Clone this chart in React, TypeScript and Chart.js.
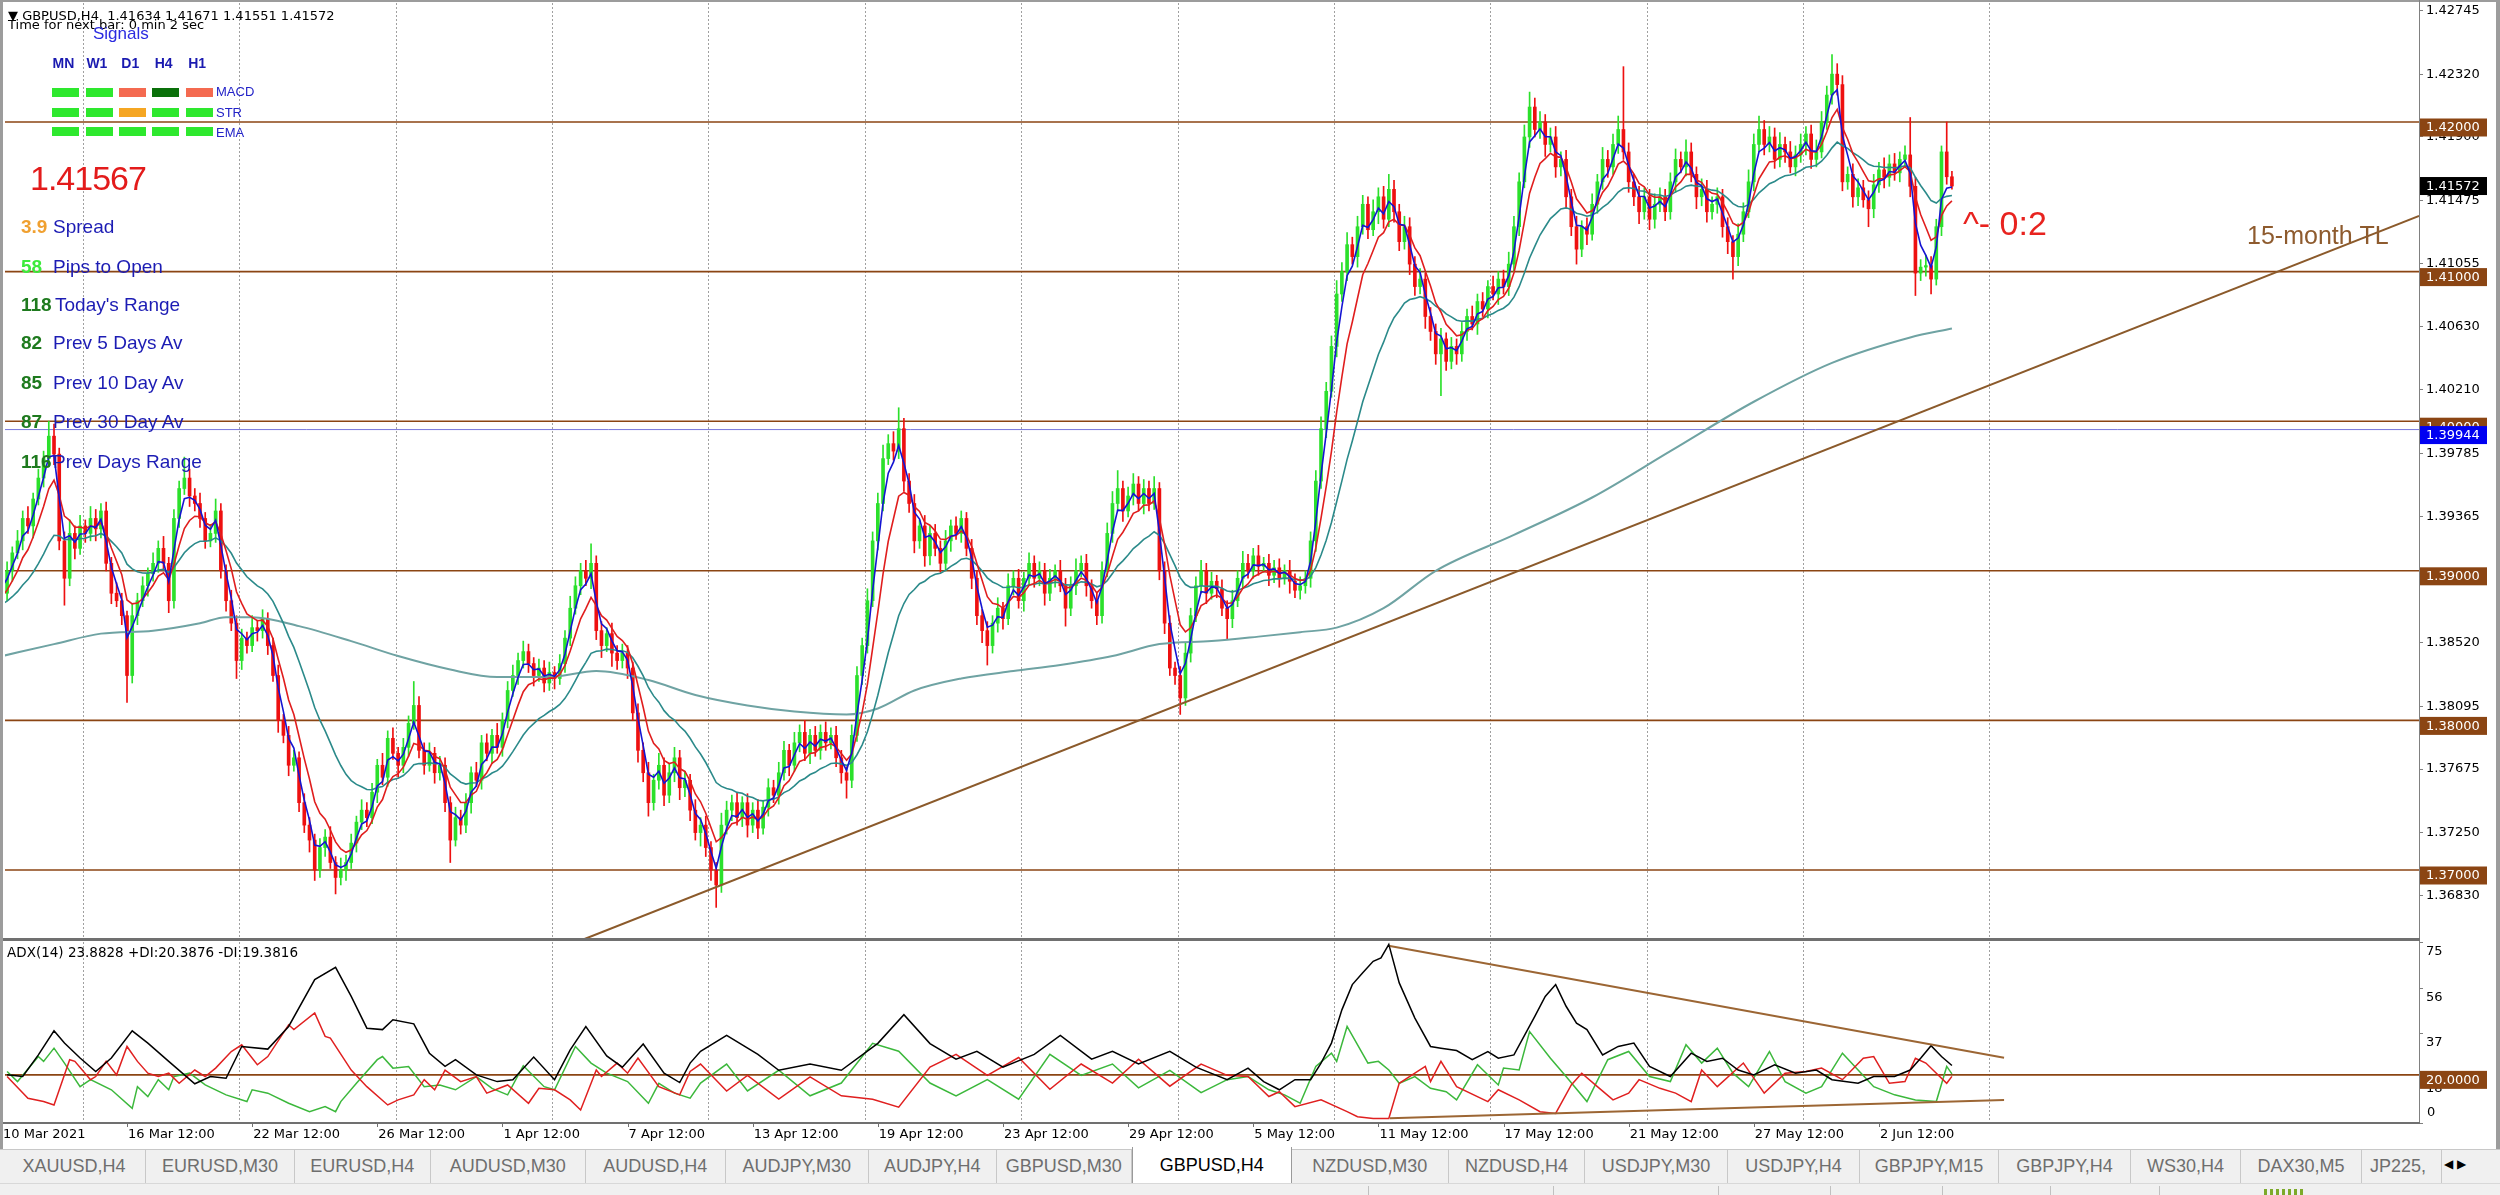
import React, { useEffect, useRef } from 'react';
import { Chart, registerables } from 'chart.js';

Chart.register(...registerables);

// ---------------- data (GBPUSD H4, 10 Mar 2021 12:00 .. 4 Jun 2021) ----------------
const firstOpen = 1.3875;
const closes = [
  1.3885,1.3900,1.3912,1.3920,1.3935,1.3930,1.3948,1.3962,1.3975,1.3990,
  1.3978,1.3920,1.3895,1.3925,1.3915,1.3930,1.3925,1.3935,1.3928,1.3940,
  1.3905,1.3885,1.3880,1.3870,1.3830,1.3870,1.3880,1.3890,1.3898,1.3905,
  1.3915,1.3905,1.3880,1.3935,1.3955,1.3962,1.3950,1.3945,1.3935,1.3920,
  1.3925,1.3940,1.3900,1.3880,1.3865,1.3840,1.3855,1.3850,1.3862,1.3860,
  1.3868,1.3850,1.3830,1.3800,1.3790,1.3770,1.3775,1.3745,1.3730,1.3720,
  1.3700,1.3715,1.3722,1.3705,1.3695,1.3700,1.3705,1.3718,1.3732,1.3740,
  1.3735,1.3752,1.3770,1.3762,1.3788,1.3778,1.3770,1.3782,1.3798,1.3810,
  1.3780,1.3770,1.3778,1.3765,1.3770,1.3745,1.3720,1.3735,1.3730,1.3745,
  1.3765,1.3760,1.3785,1.3778,1.3790,1.3782,1.3800,1.3820,1.3830,1.3840,
  1.3846,1.3838,1.3830,1.3835,1.3825,1.3832,1.3828,1.3838,1.3855,1.3875,
  1.3890,1.3900,1.3895,1.3905,1.3860,1.3850,1.3858,1.3845,1.3840,1.3845,
  1.3835,1.3805,1.3780,1.3765,1.3745,1.3760,1.3770,1.3750,1.3765,1.3775,
  1.3755,1.3760,1.3740,1.3725,1.3730,1.3715,1.3700,1.3690,1.3730,1.3740,
  1.3745,1.3735,1.3745,1.3730,1.3740,1.3728,1.3742,1.3755,1.3750,1.3765,
  1.3780,1.3770,1.3785,1.3792,1.3778,1.3790,1.3780,1.3792,1.3785,1.3790,
  1.3775,1.3765,1.3760,1.3790,1.3830,1.3850,1.3880,1.3920,1.3945,1.3975,
  1.3985,1.3980,1.3995,1.3960,1.3945,1.3920,1.3930,1.3910,1.3925,1.3915,
  1.3905,1.3920,1.3930,1.3925,1.3935,1.3915,1.3895,1.3870,1.3860,1.3850,
  1.3865,1.3875,1.3868,1.3890,1.3895,1.3880,1.3895,1.3905,1.3895,1.3900,
  1.3885,1.3895,1.3900,1.3890,1.3875,1.3890,1.3900,1.3905,1.3890,1.3880,
  1.3870,1.3900,1.3925,1.3945,1.3955,1.3940,1.3950,1.3958,1.3945,1.3955,
  1.3945,1.3955,1.3900,1.3865,1.3835,1.3830,1.3815,1.3845,1.3870,1.3890,
  1.3900,1.3885,1.3893,1.3888,1.3875,1.3868,1.3880,1.3895,1.3905,1.3900,
  1.3910,1.3903,1.3905,1.3897,1.3902,1.3895,1.3900,1.3893,1.3887,1.3890,
  1.3895,1.3920,1.3960,1.3995,1.4020,1.4050,1.4085,1.4100,1.4118,1.4110,
  1.4130,1.4145,1.4128,1.4140,1.4150,1.4135,1.4155,1.4140,1.4120,1.4130,
  1.4105,1.4090,1.4095,1.4070,1.4060,1.4045,1.4055,1.4040,1.4050,1.4045,
  1.4060,1.4070,1.4065,1.4080,1.4075,1.4090,1.4085,1.4095,1.4090,1.4105,
  1.4130,1.4160,1.4190,1.4210,1.4195,1.4200,1.4185,1.4190,1.4170,1.4175,
  1.4150,1.4130,1.4115,1.4130,1.4125,1.4145,1.4160,1.4175,1.4170,1.4185,
  1.4195,1.4180,1.4160,1.4150,1.4140,1.4150,1.4135,1.4145,1.4150,1.4140,
  1.4160,1.4175,1.4170,1.4180,1.4165,1.4150,1.4155,1.4140,1.4145,1.4150,
  1.4130,1.4120,1.4110,1.4125,1.4140,1.4160,1.4185,1.4195,1.4185,1.4190,
  1.4175,1.4185,1.4180,1.4170,1.4178,1.4185,1.4192,1.4175,1.4180,1.4200,
  1.4218,1.4232,1.4225,1.4160,1.4165,1.4150,1.4156,1.4148,1.4142,1.4158,
  1.4168,1.4163,1.4172,1.4166,1.4175,1.4178,1.4157,1.4099,1.4103,1.4104,
  1.4095,1.4130,1.4180,1.41634,1.41572,
];
// wick lengths in pips above / below the body
const wickUp = [
  5,6,4,7,5,8,4,6,5,10, 8,4,6,9,5,7,4,8,6,5, 6,4,7,5,3,8,5,6,4,7, 5,8,4,6,5,14,6,5,7,4,
  6,8,5,4,7,5,6,4,8,5, 6,4,5,7,4,6,5,4,6,5, 4,6,5,7,4,8,5,6,4,7, 5,6,4,8,5,7,4,6,5,16,
  6,5,7,4,6,5,4,7,5,6, 4,7,5,6,4,8,5,6,7,5, 7,5,4,6,5,7,4,6,5,8, 6,5,7,13,5,6,4,7,5,6,
  5,4,6,5,7,4,8,5,6,7, 5,6,4,7,5,6,4,5,8,6, 5,7,4,6,5,7,4,6,5,7, 6,4,7,5,8,4,6,5,7,5,
  6,5,4,7,6,5,8,6,7,9, 6,8,14,7,5,6,4,7,5,6, 5,7,4,6,5,4,6,5,4,6, 5,7,4,8,5,6,4,7,5,6,
  5,6,4,7,5,6,8,5,6,4, 5,6,7,8,12,5,6,7,5,6, 5,8,4,6,5,4,6,7,5,6, 7,5,6,4,6,5,7,5,8,6,
  5,7,4,6,5,6,4,7,5,6, 5,6,7,8,6,7,9,6,8,5, 7,6,5,8,6,7,10,6,5,7, 6,5,7,4,6,5,7,4,6,5,
  6,5,7,5,6,4,7,5,6,8, 7,6,8,10,6,7,5,6,7,5, 6,5,7,4,6,7,5,8,6,7, 9,42,6,5,7,6,5,7,6,5,
  6,7,5,8,6,5,7,6,5,6, 5,6,4,7,6,8,7,9,6,7, 6,8,5,7,6,7,5,6,8,7, 6,13,7,6,5,7,6,5,6,7,
  5,8,6,7,5,6,25,6,5,7, 6,5,4,20,3.7,
];
const wickDn = [
  6,5,7,4,6,5,8,4,6,5, 7,6,18,5,7,4,6,5,8,6, 5,7,4,6,18,5,6,4,7,5, 6,4,8,5,6,4,7,5,6,5,
  4,6,5,7,5,12,6,5,4,7, 5,6,4,8,5,7,4,6,5,8, 7,5,6,4,11,5,7,4,6,5, 6,4,7,5,6,4,8,5,6,4,
  5,6,4,7,5,6,15,4,6,5, 7,4,6,5,7,4,6,5,4,6, 5,6,7,4,6,5,7,4,6,5, 4,6,5,7,6,8,4,9,6,5,
  7,5,8,6,9,5,6,7,5,6, 8,6,7,5,9,6,7,15,5,6, 7,5,6,8,5,7,4,6,5,6, 5,7,4,6,5,7,4,6,5,4,
  6,7,12,5,4,6,5,4,6,5, 4,6,5,7,6,8,5,7,6,5, 6,5,7,4,6,5,7,6,8,13, 5,6,7,4,6,5,7,4,6,5,
  8,5,6,4,12,5,6,4,7,5, 6,5,4,6,5,7,4,6,5,7, 5,4,6,7,5,6,11,5,6,4, 5,7,4,6,5,14,6,4,7,5,
  5,6,4,7,5,6,4,8,5,6, 5,6,7,5,6,4,7,5,6,5, 7,5,6,4,8,6,5,7,6,5, 7,6,5,8,6,7,28,6,5,7,
  5,6,4,7,5,6,4,7,5,6, 5,6,4,7,5,6,8,5,7,6, 8,6,10,5,7,4,6,5,7,5, 6,5,7,6,8,5,7,6,5,6,
  5,7,4,6,5,8,6,7,5,6, 7,8,15,6,5,4,6,5,7,5, 6,5,7,4,6,5,7,6,5,4, 5,6,7,6,5,7,6,5,12,6,
  5,7,6,5,6,5,7,15,5,6, 10,4,6,5,2.1,
];

// slow moving average: [bar index, price]
const longMaPts = [
  [0,1.3843],[10,1.3851],[19,1.3858],[29,1.3860],[38,1.3865],[43,1.3869],[48,1.3869],[57,1.3863],
  [67,1.3853],[76,1.3843],[86,1.3834],[95,1.3829],[105,1.3829],[114,1.3833],[124,1.3827],[133,1.3817],
  [143,1.3810],[152,1.3806],[162,1.3804],[168,1.3808],[175,1.3820],[184,1.3828],[194,1.3833],[203,1.3837],
  [213,1.3843],[222,1.3851],[232,1.3853],[241,1.3856],[249,1.3859],[256,1.3862],[265,1.3875],[275,1.3900],
  [290,1.3924],[305,1.3949],[320,1.3980],[336,1.4013],[351,1.4039],[366,1.4056],[374,1.4062],
];

// ADX(14) panel: [bar index, value]
const adxPts = [
  [1,20],[4,19.3],[7,28.3],[10,38.3],[12,33.2],[15,27],[18,21.4],[21,27],[25,38.3],[28,33.2],[32,25.6],
  [37,16.3],[40,19.3],[43,18.6],[46,31.8],[51,30.7],[55,40.1],[60,59.6],[64,64.7],[67,52.6],[70,39.4],
  [73,38.8],[75,42.9],[79,41.2],[82,29],[85,23.5],[87,26.3],[91,20],[95,17.2],[98,18],[102,27.4],[106,18],
  [109,30.4],[112,40.1],[116,27.9],[119,23.2],[123,32.8],[127,20.7],[130,16.8],[132,24.9],[134,29.8],
  [139,36.4],[145,28.5],[149,21.9],[155,24.5],[161,21.9],[168,33.1],[173,45],[178,33],[183,26.5],
  [187,29.8],[192,23.2],[198,28.5],[203,36.4],[209,26.5],[213,29.8],[218,24.5],[224,29.8],[229,23.2],
  [235,18],[239,22.8],[242,17.2],[245,13.8],[248,18],[251,18],[253,24.9],[255,33.2],[257,47],[259,57.5],
  [261,62.4],[263,67.2],[264.5,68.6],[266,74.2],[268,58.2],[271,43.6],[274,31.8],[276,31.1],[279,30.1],
  [282,26.3],[285,29.7],[287,26.9],[290,28.3],[294,44.3],[296,52.6],[298,57.5],[300,48.5],[302,41.5],
  [304,38.8],[307,28.3],[310,31.8],[313,33.2],[316,23.5],[320,19.3],[324,29],[327,25.6],[330,26.9],
  [333,22],[336,20],[340,24.2],[344,20.7],[348,22],[351,18],[356,16.5],[359,19.3],[363,19.3],[366,22],
  [368,26.9],[370,32.1],[372,27.6],[374,23.88],
];
const plusDiPts = [
  [1,21.4],[3,17.2],[7,27.6],[8,25.6],[10,31.1],[12,24.9],[15,15.1],[17,18],[21,13.8],[25,6.1],[26,15.1],
  [28,11],[30,18],[32,13.8],[33,19.3],[36,20.7],[39,15.8],[43,11.7],[47,8.9],[48,13.8],[51,12.4],[55,8.2],
  [59,4.7],[62,6.8],[64,4.7],[65,8.9],[68,16.5],[72,26.3],[73,27.6],[75,22.8],[78,23.5],[81,15.1],[84,15.8],
  [87,13.8],[91,19.3],[94,14.4],[97,11.7],[100,23.8],[104,15.1],[106,13.8],[110,31.8],[113,24.9],[116,20.7],
  [120,17.2],[124,8.2],[126,16.5],[129,12.4],[132,10.3],[134,16.6],[139,24.5],[143,13.3],[149,21.9],
  [155,11.3],[161,16.6],[167,33.1],[172,29.8],[178,16.6],[183,11.3],[189,18],[195,9.9],[201,28.5],
  [207,19.8],[213,24.5],[218,14.6],[224,21.9],[230,12.6],[235,18],[239,19.3],[243,13.8],[246,11.7],
  [249,8.2],[252,23.5],[255,29],[256,25.6],[258,40.1],[262,24.9],[264,25.6],[266,22],[268,16.5],[271,19.3],
  [274,14.4],[277,13],[279,9.6],[283,24.2],[287,15.8],[288,22.8],[291,22],[293,38],[297,26.9],[300,19.3],
  [304,8.9],[308,26.3],[312,29.7],[316,19.3],[320,17.2],[323,32.5],[326,24.9],[329,31.1],[332,20.7],
  [335,15.1],[339,29.7],[342,17.2],[346,12.4],[349,15.1],[353,29],[356,22],[359,15.1],[363,11.7],
  [367,9.6],[371,8.9],[373,23.5],[374,20.39],
];
const minusDiPts = [
  [1,19.3],[5,10.3],[8,8.9],[10,7.5],[13,26.3],[14,25.6],[17,18],[18,19.3],[20,25.6],[22,20],[24,31.8],
  [26,25.6],[28,20.7],[30,19.3],[32,20.7],[34,16.5],[37,22],[39,19.3],[41,22.8],[44,29.7],[46,32.5],
  [49,24.2],[51,27.6],[55,40.8],[56,38.8],[60,45.7],[62,36],[63,35.3],[67,22],[70,15.1],[74,7.5],[76,9.6],
  [79,11.7],[81,18],[83,13.8],[85,22],[88,17.2],[91,19.3],[93,12.4],[97,15.8],[101,8.2],[103,14.4],
  [106,13.8],[109,9.6],[111,5.4],[114,22],[115,19.3],[118,24.9],[120,20.7],[122,27],[126,15.1],[130,11.7],
  [132,21.4],[134,24.5],[139,13.3],[143,19.8],[149,9.9],[155,19.2],[161,11.3],[167,9.9],[172,6.6],
  [178,23.2],[183,28.5],[189,19.8],[195,27.2],[201,14],[207,24.5],[213,16.6],[218,26.5],[224,15.3],
  [230,24.5],[235,19.8],[239,19.3],[243,11],[245,13],[248,6.8],[253,9.6],[258,4.7],[260,2.6],[263,1.9],
  [266,1.9],[268,16.5],[271,20.7],[273,23.5],[274,17.2],[276,25.6],[279,15.1],[285,8.9],[287,13.8],
  [291,9.6],[295,4.7],[298,4],[301,15.8],[303,20.7],[306,15.1],[309,9.6],[312,12.4],[314,18],[318,14.4],
  [321,12.4],[324,8.9],[326,22],[329,15.1],[334,24.9],[338,12.4],[342,20.7],[346,21.4],[349,22.8],
  [353,18],[357,26.9],[359,27.6],[362,16.5],[365,17.2],[367,26.9],[369,24.9],[373,16.5],[374,19.38],
];

const priceTicks = [1.42745,1.4232,1.419,1.41475,1.41055,1.4063,1.4021,1.39785,1.39365,1.3894,1.3852,1.38095,1.37675,1.3725,1.3683];
const levelLines = [1.42, 1.41, 1.40, 1.39, 1.38, 1.37];
const blueLevel = 1.39944;
const bidPrice = 1.41572;
const adxTicks = [0, 18, 37, 56, 75];
const adxLevel = 20;
const dateIdx = [0,24,48,72,96,120,144,168,192,216,240,264,288,312,336,360];
const dateLabels = ['10 Mar 2021','16 Mar 12:00','22 Mar 12:00','26 Mar 12:00','1 Apr 12:00','7 Apr 12:00','13 Apr 12:00','19 Apr 12:00','23 Apr 12:00','29 Apr 12:00','5 May 12:00','11 May 12:00','17 May 12:00','21 May 12:00','27 May 12:00','2 Jun 12:00'];
const gridIdx = [15.5,45.5,75.5,105.5,135.5,165.5,195.5,225.5,255.5,285.5,315.5,345.5,381.2];
const trendLine = [[111.26, 1.36532], [463.6, 1.41372]];
const adxUpperTL = [[266.2, 73.5], [384, 27.1]];
const adxLowerTL = [[266.2, 1.95], [384, 9.6]];

const tabNames = ['XAUUSD,H4','EURUSD,M30','EURUSD,H4','AUDUSD,M30','AUDUSD,H4','AUDJPY,M30','AUDJPY,H4','GBPUSD,M30','GBPUSD,H4','NZDUSD,M30','NZDUSD,H4','USDJPY,M30','USDJPY,H4','GBPJPY,M15','GBPJPY,H4','WS30,H4','DAX30,M5','JP225,'];
const tabEdges = [3,146,295,430.5,586,725.5,869,996.5,1132,1291.5,1449,1585,1728,1860,1999,2131,2241,2362,2442];
const activeTab = 8;

const infoNums = ['3.9','58','118','82','85','87','116'];
const infoLabels = ['Spread','Pips to Open',"Today's Range",'Prev 5 Days Av','Prev 10 Day Av','Prev 30 Day Av','Prev Days Range'];
const infoNumColors = ['#F0A030','#3CEB3C','#1E7A1E','#1E7A1E','#1E7A1E','#1E7A1E','#1E7A1E'];
const infoY = [227,267,305,343,383,422,462];

const sigCols = ['MN','W1','D1','H4','H1'];
const sigRows = ['MACD','STR','EMA'];
const sigColors = [
  ['#2EE82E','#2EE82E','#F46A50','#0A700A','#F46A50'],
  ['#2EE82E','#2EE82E','#F5A623','#2EE82E','#2EE82E'],
  ['#2EE82E','#2EE82E','#2EE82E','#2EE82E','#2EE82E'],
];

// ---------------- derived ----------------
const bars = closes.map((c, i) => {
  const o = i === 0 ? firstOpen : closes[i - 1];
  return { o, c, h: Math.max(o, c) + wickUp[i] / 10000, l: Math.min(o, c) - wickDn[i] / 10000 };
});
function ema(src: number[], period: number, seed: number) {
  const k = 2 / (period + 1);
  let e = seed;
  return src.map((v) => (e += k * (v - e)));
}
const emaFast = ema(closes, 3, 1.3893);
const emaMid = ema(closes, 7, 1.3882);
const emaSlow = ema(closes, 21, 1.3877);

const X_MIN = 0.6, X_MAX = 463.58;
const Y_MAX = 1.42 + 119 / 14960;
const Y_MIN = 1.42 - 818 / 14960;
const AXIS_W = 81;
const BULL = '#2BE02B', BEAR = '#EE1010', BROWN = '#8B4513';
const AX_FONT = '"DejaVu Sans", sans-serif';
const TXT_FONT = '"Liberation Sans", Arial, sans-serif';

const pts = (arr: number[][]) => arr.map(([x, y]) => ({ x, y }));

function vGrid(ctx, a, xs) {
  ctx.save();
  ctx.beginPath(); ctx.rect(a.left, a.top, a.right - a.left, a.bottom - a.top); ctx.clip();
  ctx.strokeStyle = '#a0a0a0'; ctx.lineWidth = 1; ctx.setLineDash([2, 2]);
  for (const g of gridIdx) {
    const px = Math.round(xs.getPixelForValue(g)) + 0.5;
    ctx.beginPath(); ctx.moveTo(px, a.top); ctx.lineTo(px, a.bottom); ctx.stroke();
  }
  ctx.restore();
}
function box(ctx, left, yc, bg, text) {
  ctx.fillStyle = bg; ctx.fillRect(left, yc - 9, 67, 18);
  ctx.fillStyle = '#fff'; ctx.font = '13px ' + AX_FONT; ctx.textAlign = 'left'; ctx.textBaseline = 'middle';
  ctx.fillText(text, left + 6, yc + 0.5);
}

const mainOverlay = {
  id: 'mainOverlay',
  beforeDatasetsDraw(chart) {
    const { ctx, chartArea: a, scales } = chart;
    vGrid(ctx, a, scales.x);
    ctx.save();
    ctx.beginPath(); ctx.rect(a.left, a.top, a.right - a.left, a.bottom - a.top); ctx.clip();
    ctx.strokeStyle = BROWN; ctx.lineWidth = 1.6;
    for (const v of levelLines) {
      const py = scales.y.getPixelForValue(v);
      ctx.beginPath(); ctx.moveTo(a.left, py); ctx.lineTo(a.right, py); ctx.stroke();
    }
    ctx.strokeStyle = '#7878DC'; ctx.lineWidth = 1;
    const pb = scales.y.getPixelForValue(blueLevel);
    ctx.beginPath(); ctx.moveTo(a.left, pb); ctx.lineTo(a.right, pb); ctx.stroke();
    ctx.restore();
  },
  afterDraw(chart) {
    const { ctx, chartArea: a, scales } = chart;
    const ys = scales.y, xs = scales.x;
    ctx.save();
    for (const v of levelLines) box(ctx, a.right + 1, ys.getPixelForValue(v) + 5.5, BROWN, v.toFixed(5));
    box(ctx, a.right + 1, ys.getPixelForValue(blueLevel) + 5.5, '#0000F2', blueLevel.toFixed(5));
    box(ctx, a.right + 1, ys.getPixelForValue(bidPrice), '#000', bidPrice.toFixed(5));
    ctx.textAlign = 'left'; ctx.textBaseline = 'middle';
    ctx.fillStyle = '#E8231F'; ctx.font = '34px ' + TXT_FONT;
    ctx.fillText('^- 0:2', xs.getPixelForValue(376.1), ys.getPixelForValue(1.41305));
    ctx.fillStyle = '#8E5B2E'; ctx.font = '25px ' + TXT_FONT;
    ctx.fillText('15-month TL', xs.getPixelForValue(430.6), ys.getPixelForValue(1.41231));
    ctx.restore();
  },
};

const adxOverlay = {
  id: 'adxOverlay',
  beforeDatasetsDraw(chart) {
    const { ctx, chartArea: a, scales } = chart;
    vGrid(ctx, a, scales.x);
    ctx.save();
    ctx.strokeStyle = BROWN; ctx.lineWidth = 1.6;
    const py = scales.y.getPixelForValue(adxLevel);
    ctx.beginPath(); ctx.moveTo(a.left, py); ctx.lineTo(a.right, py); ctx.stroke();
    ctx.restore();
  },
  afterDraw(chart) {
    const { ctx, chartArea: a, scales } = chart;
    const xs = scales.x, ys = scales.y;
    ctx.save();
    box(ctx, a.right + 1, ys.getPixelForValue(adxLevel) + 5, BROWN, adxLevel.toFixed(4));
    ctx.fillStyle = '#000'; ctx.font = '13px ' + AX_FONT; ctx.textAlign = 'left'; ctx.textBaseline = 'middle';
    ctx.fillText('0', a.right + 8, a.bottom - 10);
    ctx.font = '13.5px ' + AX_FONT;
    ctx.fillText('ADX(14) 23.8828 +DI:20.3876 -DI:19.3816', 7, a.top + 11);
    ctx.font = '13px ' + AX_FONT;
    ctx.strokeStyle = '#707070'; ctx.lineWidth = 1;
    dateIdx.forEach((d, i) => {
      const px = xs.getPixelForValue(d);
      ctx.beginPath(); ctx.moveTo(Math.round(px) + 0.5, a.bottom); ctx.lineTo(Math.round(px) + 0.5, a.bottom + 4); ctx.stroke();
      ctx.fillText(dateLabels[i], Math.max(px + 1, 3), a.bottom + 12);
    });
    ctx.restore();
  },
};

const xScale = { type: 'linear', min: X_MIN, max: X_MAX, display: false, offset: false };
function yAxis(extra) {
  return {
    position: 'right',
    afterFit: (s) => { s.width = AXIS_W; s.paddingTop = 0; s.paddingBottom = 0; },
    grid: { drawOnChartArea: false, drawTicks: true, tickLength: 4, color: '#808080' },
    border: { display: true, color: '#808080' },
    ...extra,
  };
}

export default function App() {
  const mainRef = useRef<HTMLCanvasElement>(null);
  const adxRef = useRef<HTMLCanvasElement>(null);

  useEffect(() => {
    document.body.style.margin = '0';
    const common = {
      animation: false, responsive: false, maintainAspectRatio: false, devicePixelRatio: 1, events: [],
      plugins: { legend: { display: false }, tooltip: { enabled: false }, title: { display: false } },
    };
    const main = new Chart(mainRef.current!, {
      type: 'bar',
      data: {
        datasets: [
          { type: 'line', data: pts(trendLine), borderColor: '#8B5A2B', borderWidth: 2, pointRadius: 0, order: 0 },
          { type: 'line', data: emaFast.map((y, x) => ({ x, y })), borderColor: '#1414D2', borderWidth: 1.6, pointRadius: 0, order: 1 },
          { type: 'line', data: emaMid.map((y, x) => ({ x, y })), borderColor: '#E01E1E', borderWidth: 1.6, pointRadius: 0, order: 2 },
          { type: 'line', data: emaSlow.map((y, x) => ({ x, y })), borderColor: '#2B8A8A', borderWidth: 1.6, pointRadius: 0, order: 3 },
          { type: 'line', data: pts(longMaPts), borderColor: '#6FA3A3', borderWidth: 2, pointRadius: 0, cubicInterpolationMode: 'monotone', order: 4 },
          { type: 'bar', data: bars.map((b, x) => ({ x, y: [b.o, b.c] })), backgroundColor: bars.map((b) => (b.c >= b.o ? BULL : BEAR)), barThickness: 3, minBarLength: 1, grouped: false, borderWidth: 0, order: 5 },
          { type: 'bar', data: bars.map((b, x) => ({ x, y: [b.l, b.h] })), backgroundColor: bars.map((b) => (b.c >= b.o ? BULL : BEAR)), barThickness: 1, grouped: false, borderWidth: 0, order: 6 },
        ],
      },
      options: {
        ...common,
        layout: { autoPadding: false, padding: { left: 5, top: 3, right: 0, bottom: 5 } },
        scales: {
          x: xScale,
          y: yAxis({
            min: Y_MIN, max: Y_MAX,
            afterBuildTicks: (s) => { s.ticks = priceTicks.map((value) => ({ value })); },
            ticks: { autoSkip: false, padding: 3, color: '#000', font: { family: AX_FONT, size: 13 }, callback: (v) => Number(v).toFixed(5) },
          }),
        },
      },
      plugins: [mainOverlay],
    });
    const adx = new Chart(adxRef.current!, {
      type: 'line',
      data: {
        datasets: [
          { data: pts(adxUpperTL), borderColor: '#9C6634', borderWidth: 2, pointRadius: 0, order: 0 },
          { data: pts(adxLowerTL), borderColor: '#9C6634', borderWidth: 2, pointRadius: 0, order: 0 },
          { data: pts(adxPts), borderColor: '#000000', borderWidth: 1.5, pointRadius: 0, order: 1 },
          { data: pts(minusDiPts), borderColor: '#E02020', borderWidth: 1.5, pointRadius: 0, order: 2 },
          { data: pts(plusDiPts), borderColor: '#3CB83C', borderWidth: 1.5, pointRadius: 0, order: 3 },
        ],
      },
      options: {
        ...common,
        layout: { autoPadding: false, padding: { left: 5, top: 2, right: 0, bottom: 27 } },
        scales: {
          x: xScale,
          y: yAxis({
            min: 0, max: 75.2,
            afterBuildTicks: (s) => { s.ticks = adxTicks.map((value) => ({ value })); },
            ticks: { autoSkip: false, padding: 3, labelOffset: 9, color: '#000', font: { family: AX_FONT, size: 13 }, callback: (v) => (v === 0 ? '' : String(v)) },
          }),
        },
      },
      plugins: [adxOverlay],
    });
    return () => { main.destroy(); adx.destroy(); };
  }, []);

  const T = (p) => (
    <div style={{ position: 'absolute', left: p.x, top: p.cy - p.size, height: p.size * 2, lineHeight: `${p.size * 2}px`, fontSize: p.size, color: p.color, fontWeight: p.weight || 'normal', fontFamily: p.family || TXT_FONT, whiteSpace: 'pre', transform: p.center ? 'translateX(-50%)' : undefined, letterSpacing: p.ls }}>{p.children}</div>
  );

  return (
    <div style={{ position: 'fixed', left: 0, top: 0, width: 2500, height: 1195, background: '#fff', overflow: 'hidden' }}>
      <canvas ref={mainRef} width={2500} height={945} style={{ position: 'absolute', left: 0, top: 0, width: 2500, height: 945 }} />
      <canvas ref={adxRef} width={2500} height={210} style={{ position: 'absolute', left: 0, top: 940, width: 2500, height: 210 }} />

      {/* frame */}
      <div style={{ position: 'absolute', left: 0, top: 0, width: 2500, height: 2, background: '#9C9C9C' }} />
      <div style={{ position: 'absolute', left: 0, top: 0, width: 3, height: 1149, background: '#9C9C9C' }} />
      <div style={{ position: 'absolute', left: 2496, top: 0, width: 4, height: 1149, background: '#9C9C9C' }} />
      <div style={{ position: 'absolute', left: 2419, top: 0, width: 1, height: 1124, background: '#808080' }} />
      <div style={{ position: 'absolute', left: 3, top: 938, width: 2417, height: 3, background: '#707070' }} />
      <div style={{ position: 'absolute', left: 3, top: 1122, width: 2417, height: 2, background: '#707070' }} />

      {/* header */}
      <T x={8} cy={16} size={13} color="#000" family={AX_FONT}>{'▼ GBPUSD,H4  1.41634 1.41671 1.41551 1.41572'}</T>
      <T x={8} cy={25} size={13} color="#000" family={AX_FONT}>{'Time for next bar: 0 min 2 sec'}</T>
      <T x={93} cy={34} size={17} color="#2B2BE0">Signals</T>
      {sigCols.map((c, i) => (
        <T key={c} x={63.5 + i * 33.4} cy={63} size={14} color="#1A1AB0" weight="bold" center>{c}</T>
      ))}
      {sigRows.map((r, ri) => (
        <React.Fragment key={r}>
          {sigColors[ri].map((col, ci) => (
            <div key={ci} style={{ position: 'absolute', left: 52.3 + ci * 33.35, top: 88 + ri * 19.5, width: 27, height: 9, background: col }} />
          ))}
          <T x={216} cy={92 + ri * 20.5} size={13} color="#2323C8">{r}</T>
        </React.Fragment>
      ))}
      <T x={30} cy={178} size={34} color="#E31B1B" ls="-1px">1.41567</T>
      {infoNums.map((n, i) => (
        <React.Fragment key={i}>
          <T x={21} cy={infoY[i]} size={19} color={infoNumColors[i]} weight="bold">{n}</T>
          <T x={i === 2 ? 55 : 53} cy={infoY[i]} size={19} color="#1C1CB4">{infoLabels[i]}</T>
        </React.Fragment>
      ))}

      {/* tab bar */}
      <div style={{ position: 'absolute', left: 0, top: 1149, width: 2500, height: 46, background: '#F0F0F0', borderTop: '1px solid #C8C8C8' }} />
      {tabNames.map((name, i) => {
        const l = tabEdges[i], w = tabEdges[i + 1] - tabEdges[i];
        const act = i === activeTab;
        return (
          <div key={name} style={{ position: 'absolute', left: l, top: act ? 1147 : 1150, width: w, height: act ? 37 : 33, boxSizing: 'border-box', background: act ? '#fff' : '#F0F0F0', borderRight: '1px solid ' + (act ? '#9A9A9A' : '#C8C8C8'), borderLeft: act ? '1px solid #9A9A9A' : undefined, borderBottom: act ? '1px solid #9A9A9A' : undefined, overflow: 'hidden', display: 'flex', alignItems: 'center', justifyContent: i === tabNames.length - 1 ? 'flex-start' : 'center', paddingLeft: i === tabNames.length - 1 ? 8 : 0, fontFamily: TXT_FONT, fontSize: 18, color: act ? '#000' : '#6E6E6E', whiteSpace: 'pre' }}>{name}</div>
        );
      })}
      <div style={{ position: 'absolute', left: 2444, top: 1157, fontSize: 12, fontFamily: AX_FONT, color: '#000' }}>{'◀ ▶'}</div>
      <div style={{ position: 'absolute', left: 0, top: 1183, width: 2500, height: 12, background: '#F0F0F0', borderTop: '1px solid #D8D8D8' }} />
      {[1368, 1553, 1718, 1830, 1942, 2050, 2159].map((x) => (
        <div key={x} style={{ position: 'absolute', left: x, top: 1186, width: 1, height: 9, background: '#C0C0C0' }} />
      ))}
      {[0, 1, 2, 3, 4, 5, 6].map((k) => (
        <div key={k} style={{ position: 'absolute', left: 2264 + k * 6, top: 1189, width: 3, height: 6, background: '#7DAA2A' }} />
      ))}
    </div>
  );
}
